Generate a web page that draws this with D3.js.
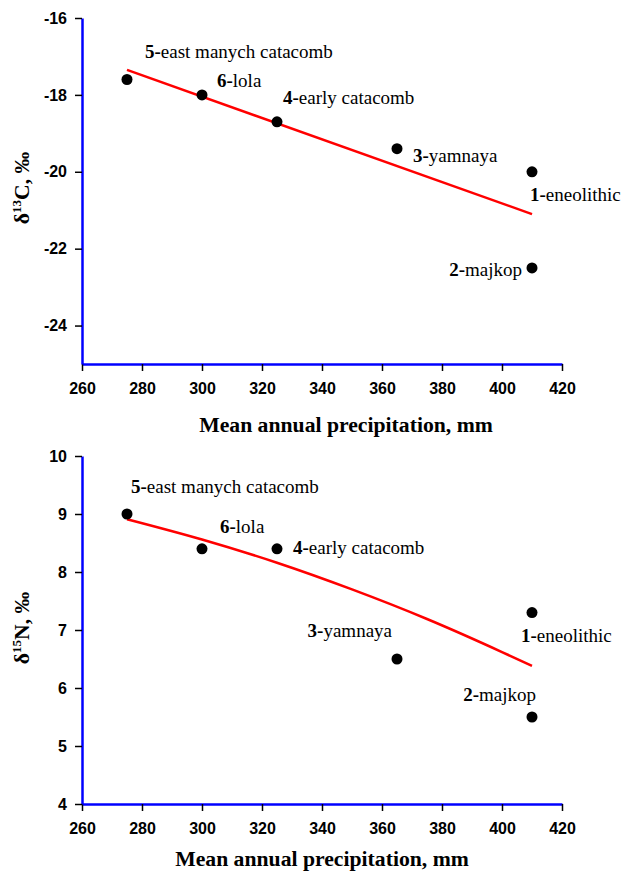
<!DOCTYPE html>
<html lang="en">
<head>
<meta charset="UTF-8" />
<title>Isotopes vs precipitation</title>
<style>
  body { margin: 0; background: #fff; }
  .tick text { font-family: "Liberation Sans", Arial, sans-serif; font-weight: bold; font-size: 16px; fill: #000; }
  .lbl { font-family: "Liberation Serif", "Times New Roman", serif; font-size: 19px; fill: #000; }
  .lbl .num { font-weight: bold; }
  .title { font-family: "Liberation Serif", "Times New Roman", serif; font-weight: bold; font-size: 21.7px; fill: #000; }
</style>
</head>
<body>
<svg id="chart" width="621" height="871"></svg>
<script src="https://d3js.org/d3.v7.min.js"></script>
<script>
// sites 1..6
const siteNum = ['1', '2', '3', '4', '5', '6'];
const siteName = ['eneolithic', 'majkop', 'yamnaya', 'early catacomb', 'east manych catacomb', 'lola'];
const precip = [410, 410, 365, 325, 275, 300];
const d13C = [-20.0, -22.5, -19.4, -18.7, -17.6, -18.0];
const d15N = [7.3, 5.5, 6.5, 8.4, 9.0, 8.4];

// trend lines
const trendCx = [275, 410];
const trendCy = [-17.35, -21.1];
const trendNx = [275, 300, 325, 350, 375, 400, 410];
const trendNy = [8.91, 8.56, 8.16, 7.70, 7.19, 6.62, 6.38];

const xTicks = [260, 280, 300, 320, 340, 360, 380, 400, 420];
const yTicksC = [-24, -22, -20, -18, -16];
const yTicksN = [4, 5, 6, 7, 8, 9, 10];

// label placement (pixels from the dot)
const lblC = [[-2, 29, 'start'], [-10, 8, 'end'], [16, 13, 'start'], [6, -18, 'start'], [18, -22, 'start'], [15, -8, 'start']];
const lblN = [[-11, 29, 'start'], [4, -16, 'end'], [-5, -22, 'end'], [16, 5, 'start'], [4, -21, 'start'], [18, -16, 'start']];

const svg = d3.select('#chart');

function panel(opts) {
  const x = d3.scaleLinear().domain([260, 420]).range([82, 562]);
  const y = d3.scaleLinear().domain(opts.yDomain).range([opts.bottom, opts.top]);
  const g = svg.append('g');

  const ax = g.append('g')
    .attr('transform', `translate(0,${opts.bottom})`)
    .call(d3.axisBottom(x).tickValues(xTicks).tickFormat(d3.format('d')).tickSize(7).tickSizeOuter(0).tickPadding(12));
  const ay = g.append('g')
    .attr('transform', 'translate(82,0)')
    .call(d3.axisLeft(y).tickValues(opts.yTicks).tickFormat(d => String(d)).tickSize(7).tickSizeOuter(0).tickPadding(8));
  [ax, ay].forEach(a => {
    a.select('.domain').attr('stroke', '#0000ff').attr('stroke-width', 2.5);
    a.selectAll('.tick line').attr('stroke', '#000').attr('stroke-width', 1.5);
  });

  // trend line
  const pts = opts.tx.map((v, i) => [v, opts.ty[i]]);
  g.append('path')
    .datum(pts)
    .attr('fill', 'none')
    .attr('stroke', '#ff0000')
    .attr('stroke-width', 2.5)
    .attr('d', d3.line().x(d => x(d[0])).y(d => y(d[1])).curve(d3.curveMonotoneX));

  const data = precip.map((p, i) => ({ p: p, v: opts.vals[i], n: siteNum[i], name: siteName[i], o: opts.lbl[i] }));

  g.selectAll('circle.pt')
    .data(data)
    .enter().append('circle')
    .attr('class', 'pt')
    .attr('cx', d => x(d.p))
    .attr('cy', d => y(d.v))
    .attr('r', 5.5)
    .attr('fill', '#000');

  const t = g.selectAll('text.lbl')
    .data(data)
    .enter().append('text')
    .attr('class', 'lbl')
    .attr('x', d => x(d.p) + d.o[0])
    .attr('y', d => y(d.v) + d.o[1])
    .attr('text-anchor', d => d.o[2]);
  t.append('tspan').attr('class', 'num').text(d => d.n + '-');
  t.append('tspan').text(d => d.name);

  // x title
  g.append('text')
    .attr('class', 'title')
    .attr('x', opts.titleX)
    .attr('y', opts.titleY)
    .attr('text-anchor', 'middle')
    .text('Mean annual precipitation, mm');

  // y title
  const yt = g.append('text')
    .attr('class', 'title')
    .attr('transform', `translate(29,${opts.yTitleY}) rotate(-90)`)
    .attr('text-anchor', 'middle');
  yt.append('tspan').text('δ');
  yt.append('tspan').attr('font-size', 13).attr('dy', -8).text(opts.sup);
  yt.append('tspan').attr('dy', 8).text(opts.el + ', ‰');
}

panel({ top: 18, bottom: 364, yDomain: [-25, -16], yTicks: yTicksC, vals: d13C, tx: trendCx, ty: trendCy, lbl: lblC,
  sup: '13', el: 'C', titleX: 346, titleY: 432, yTitleY: 188 });
panel({ top: 456, bottom: 804, yDomain: [4, 10], yTicks: yTicksN, vals: d15N, tx: trendNx, ty: trendNy, lbl: lblN,
  sup: '15', el: 'N', titleX: 322, titleY: 866, yTitleY: 628 });
</script>
</body>
</html>
